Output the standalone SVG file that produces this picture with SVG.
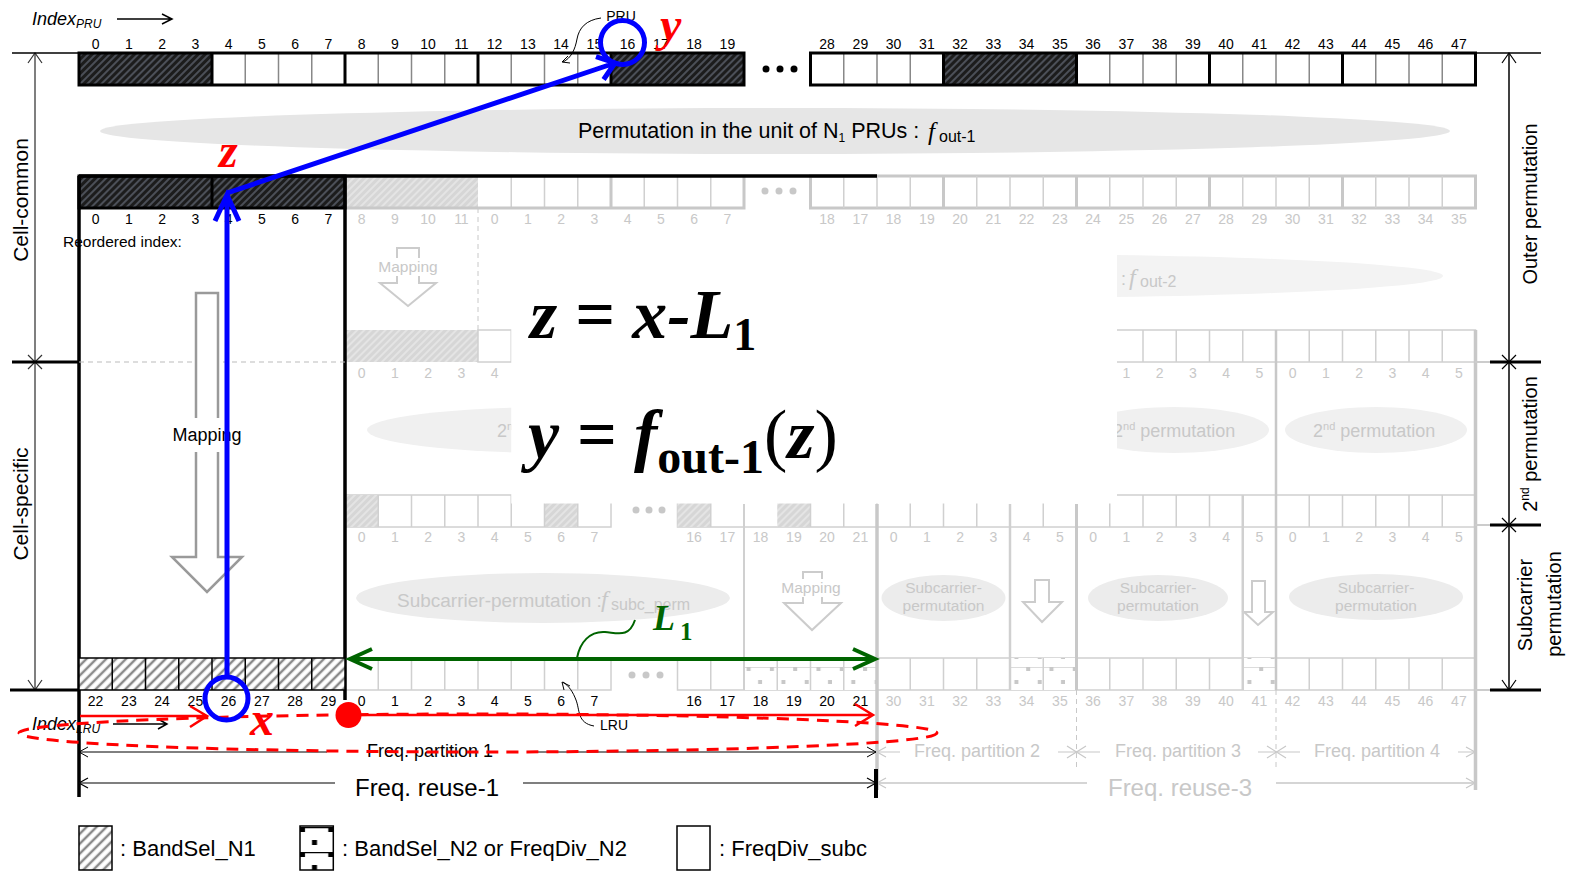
<svg xmlns="http://www.w3.org/2000/svg" width="1571" height="872" viewBox="0 0 1571 872">
<style>
.s{font-family:"Liberation Sans",Arial,sans-serif}
.n{font-family:"Liberation Sans",Arial,sans-serif;font-size:14px;text-anchor:middle}
.g{fill:#c8c8c8}
.m{font-family:"Liberation Serif","Times New Roman",serif;font-weight:bold;font-style:italic}
.fi{font-family:"Liberation Serif","Times New Roman",serif;font-style:italic}
.gl{stroke:#d0d0d0;stroke-width:1.5}
.gt{stroke:#c8c8c8;stroke-width:3}
.bk{stroke:#000}
path{fill:none}
</style>
<defs>
<pattern id="hd" patternUnits="userSpaceOnUse" width="5" height="5" patternTransform="rotate(45)">
<rect width="5" height="5" fill="#1c1c1c"/><line x1="1" y1="0" x2="1" y2="5" stroke="#6b7280" stroke-width="1.2"/>
</pattern>
<pattern id="hl" patternUnits="userSpaceOnUse" width="7" height="7" patternTransform="rotate(45)">
<rect width="7" height="7" fill="#fff"/><line x1="2" y1="0" x2="2" y2="7" stroke="#8a8a8a" stroke-width="2.5"/>
</pattern>
<pattern id="hf" patternUnits="userSpaceOnUse" width="5" height="5" patternTransform="rotate(45)">
<rect width="5" height="5" fill="#d6d6d6"/><line x1="1" y1="0" x2="1" y2="5" stroke="#eeeeee" stroke-width="1.2"/>
</pattern>
<pattern id="dg" patternUnits="userSpaceOnUse" x="0" y="642" width="23.3" height="25">
<rect width="23.3" height="25" fill="#fff"/><line x1="0" y1="0.5" x2="23.3" y2="0.5" stroke="#dcdcdc" stroke-width="1"/>
<rect x="1" y="0" width="4" height="4" fill="#c8c8c8"/><rect x="12.5" y="13" width="4" height="4" fill="#c8c8c8"/>
</pattern>
<pattern id="dl" patternUnits="userSpaceOnUse" x="300" y="827" width="33.3" height="25">
<rect width="33.3" height="25" fill="#fff"/><line x1="0" y1="0.5" x2="33.3" y2="0.5" stroke="#000" stroke-width="1.5"/>
<rect x="0" y="0" width="5" height="5" fill="#000"/><rect x="28.3" y="0" width="5" height="5" fill="#000"/><rect x="12" y="13" width="5" height="5" fill="#000"/>
</pattern>
</defs>
<rect width="1571" height="872" fill="#fff"/>

<!-- ===== faded (gray) layer ===== -->
<g id="faded-layer">
<rect x="345" y="176" width="133" height="32" fill="url(#hf)"/>
<rect x="478" y="176" width="266" height="32" fill="#fff"/>
<path class="gl" d="M511.25,176V208M544.5,176V208M577.75,176V208M644.25,176V208M677.5,176V208M710.75,176V208"/>
<path class="gt" d="M611,176V208M345,208H744V176"/>
<rect x="810.5" y="176" width="665" height="32" fill="#fff" class="gt"/>
<path class="gl" d="M843.75,176V208M877,176V208M910.25,176V208M976.75,176V208M1010,176V208M1043.25,176V208M1109.75,176V208M1143,176V208M1176.25,176V208M1242.75,176V208M1276,176V208M1309.25,176V208M1375.75,176V208M1409,176V208M1442.25,176V208"/>
<path class="gt" d="M943.5,176V208M1076.5,176V208M1209.5,176V208M1342.5,176V208"/>
<g fill="#c8c8c8"><circle cx="765" cy="191" r="3.5"/><circle cx="779" cy="191" r="3.5"/><circle cx="793" cy="191" r="3.5"/></g>
<path d="M478,208V330" stroke="#c8c8c8" stroke-width="1" stroke-dasharray="5,4"/>
<path d="M397,248H419V283H436L408,306L380,283H397Z" style="fill:#fff" stroke="#cccccc" stroke-width="2"/>
<rect x="378" y="258" width="60" height="18" fill="#fff"/>
<text class="s g" x="408" y="272" font-size="15.5" text-anchor="middle">Mapping</text>
<ellipse cx="980" cy="276" rx="463" ry="22" fill="#f3f3f3"/>
<text class="s g" x="1121" y="285" font-size="18">:</text>
<text class="fi g" x="1129" y="285" font-size="24">f</text>
<text class="s g" x="1140" y="287" font-size="16">out-2</text>
<rect x="345" y="330" width="133" height="32" fill="url(#hf)"/>
<rect x="478" y="330" width="33.25" height="32" fill="#fff" class="gl"/>
<rect x="1076.5" y="330" width="399" height="32" fill="#fff" class="gl"/>
<path class="gl" d="M1109.75,330V362M1143,330V362M1176.25,330V362M1209.5,330V362M1242.75,330V362M1309.25,330V362M1342.5,330V362M1375.75,330V362M1409,330V362M1442.25,330V362"/>
<ellipse cx="558" cy="430" rx="191" ry="23" fill="#f0f0f0"/>
<ellipse cx="1174" cy="430" rx="95" ry="23" fill="#f0f0f0"/>
<ellipse cx="1376" cy="430" rx="91" ry="23" fill="#f0f0f0"/>
<text class="s g" x="497" y="437" font-size="18">2<tspan font-size="11" dy="-7">nd</tspan></text>
<text class="s g" x="1113" y="437" font-size="18">2<tspan font-size="11" dy="-7">nd</tspan><tspan dy="7"> permutation</tspan></text>
<text class="s g" x="1313" y="437" font-size="18">2<tspan font-size="11" dy="-7">nd</tspan><tspan dy="7"> permutation</tspan></text>
<rect x="345" y="495" width="266" height="32" fill="#fff" class="gl"/>
<rect x="345" y="495" width="33.25" height="32" fill="url(#hf)"/>
<rect x="544.5" y="495" width="33.25" height="32" fill="url(#hf)"/>
<path class="gl" d="M378.25,495V527M411.5,495V527M444.75,495V527M478,495V527M511.25,495V527M544.5,495V527M577.75,495V527"/>
<g fill="#c8c8c8"><circle cx="636" cy="510" r="3.5"/><circle cx="649" cy="510" r="3.5"/><circle cx="662" cy="510" r="3.5"/></g>
<rect x="677.5" y="495" width="199.5" height="32" fill="#fff" class="gl"/>
<rect x="677.5" y="495" width="33.25" height="32" fill="url(#hf)"/>
<rect x="777.25" y="495" width="33.25" height="32" fill="url(#hf)"/>
<path class="gl" d="M710.75,495V527M810.5,495V527M843.75,495V527"/>
<rect x="877" y="495" width="598.5" height="32" fill="#fff" class="gl"/>
<path class="gl" d="M910.25,495V527M943.5,495V527M976.75,495V527M1043.25,495V527M1109.75,495V527M1143,495V527M1176.25,495V527M1209.5,495V527M1309.25,495V527M1342.5,495V527M1375.75,495V527M1409,495V527M1442.25,495V527"/>
<ellipse cx="543" cy="598" rx="187" ry="25" fill="#ececec"/>
<text class="s g" x="397" y="607" font-size="19">Subcarrier-permutation :</text>
<text class="fi g" x="601" y="607" font-size="24">f</text>
<text class="s g" x="611" y="610" font-size="16">subc_perm</text>
<path d="M803,572H822V603H841L812,630L784,603H803Z" style="fill:#fff" stroke="#cccccc" stroke-width="2"/>
<rect x="781" y="579" width="61" height="18" fill="#fff"/>
<text class="s g" x="811" y="593" font-size="15.5" text-anchor="middle">Mapping</text>
<ellipse cx="943.5" cy="598" rx="62" ry="23" fill="#ececec"/>
<text class="s g" x="943.5" y="593" font-size="15.5" text-anchor="middle">Subcarrier-</text>
<text class="s g" x="943.5" y="611" font-size="15.5" text-anchor="middle">permutation</text>
<path d="M1035,580H1049V602H1062L1042,622L1023,602H1035Z" style="fill:#fff" stroke="#cccccc" stroke-width="2"/>
<ellipse cx="1158" cy="598" rx="70" ry="23" fill="#ececec"/>
<text class="s g" x="1158" y="593" font-size="15.5" text-anchor="middle">Subcarrier-</text>
<text class="s g" x="1158" y="611" font-size="15.5" text-anchor="middle">permutation</text>
<path d="M1252,581H1265V612H1273L1258,625L1244,612H1252Z" style="fill:#fff" stroke="#cccccc" stroke-width="2"/>
<ellipse cx="1376" cy="597" rx="87" ry="23" fill="#ececec"/>
<text class="s g" x="1376" y="593" font-size="15.5" text-anchor="middle">Subcarrier-</text>
<text class="s g" x="1376" y="611" font-size="15.5" text-anchor="middle">permutation</text>
<rect x="345" y="658" width="266" height="32" fill="#fff" class="gl"/>
<path class="gl" d="M378.25,658V690M411.5,658V690M444.75,658V690M478,658V690M511.25,658V690M544.5,658V690M577.75,658V690"/>
<g fill="#c8c8c8"><circle cx="632" cy="675" r="3.5"/><circle cx="646" cy="675" r="3.5"/><circle cx="660" cy="675" r="3.5"/></g>
<rect x="677.5" y="658" width="199.5" height="32" fill="#fff" class="gl"/>
<rect x="744" y="658" width="133" height="32" fill="url(#dg)"/>
<path class="gl" d="M710.75,658V690M777.25,658V690M810.5,658V690M843.75,658V690"/>
<rect x="877" y="658" width="598.5" height="32" fill="#fff" class="gl"/>
<rect x="1010" y="658" width="66.5" height="32" fill="url(#dg)"/>
<rect x="1242.75" y="658" width="33.25" height="32" fill="url(#dg)"/>
<path class="gl" d="M910.25,658V690M943.5,658V690M976.75,658V690M1043.25,658V690M1109.75,658V690M1143,658V690M1176.25,658V690M1209.5,658V690M1309.25,658V690M1342.5,658V690M1375.75,658V690M1409,658V690M1442.25,658V690"/>
<path d="M744,504V690" stroke="#d0d0d0" stroke-width="2"/>
<path d="M877,504V790" stroke="#c8c8c8" stroke-width="3.5"/>
<path d="M1010,504V690" stroke="#d0d0d0" stroke-width="2.5"/>
<path d="M1076.5,504V690" stroke="#c8c8c8" stroke-width="3"/>
<path d="M1242.75,495V690" stroke="#d0d0d0" stroke-width="2.5"/>
<path d="M1276,330V690" stroke="#c8c8c8" stroke-width="2.5"/>
<path d="M1475.5,330V790" stroke="#c8c8c8" stroke-width="3.5"/>
<path d="M1076.5,690V767M1276,690V767" stroke="#c8c8c8" stroke-width="1" stroke-dasharray="5,4"/>
<path d="M1475,362H1490M1475,525H1490M1475,690H1490" stroke="#cccccc" stroke-width="2"/>
<g stroke="#c8c8c8" stroke-width="1.2">
<path d="M877,752H900M1058,752H1100M1258,752H1300M1458,752H1475"/>
<path d="M886,747L877,752L886,757"/>
<path d="M1067,746L1086,758M1067,758L1086,746"/>
<path d="M1267,746L1286,758M1267,758L1286,746"/>
<path d="M1466,747L1475,752L1466,757"/>
<path d="M877,783H1087M1276,783H1475" stroke-width="1.5"/>
<path d="M886,778L877,783L886,788M1466,778L1475,783L1466,788"/>
</g>
<text class="s g" x="977" y="757" font-size="18" text-anchor="middle">Freq. partition 2</text>
<text class="s g" x="1178" y="757" font-size="18" text-anchor="middle">Freq. partition 3</text>
<text class="s g" x="1377" y="757" font-size="18" text-anchor="middle">Freq. partition 4</text>
<text class="s g" x="1180" y="796" font-size="24" text-anchor="middle">Freq. reuse-3</text>
<text class="n g" y="224"><tspan x="361.6">8</tspan><tspan x="394.9">9</tspan><tspan x="428.1">10</tspan><tspan x="461.4">11</tspan><tspan x="494.6">0</tspan><tspan x="527.9">1</tspan><tspan x="561.1">2</tspan><tspan x="594.4">3</tspan><tspan x="627.6">4</tspan><tspan x="660.9">5</tspan><tspan x="694.1">6</tspan><tspan x="727.4">7</tspan><tspan x="827.1">18</tspan><tspan x="860.4">17</tspan><tspan x="893.6">18</tspan><tspan x="926.9">19</tspan><tspan x="960.1">20</tspan><tspan x="993.4">21</tspan><tspan x="1026.6">22</tspan><tspan x="1059.9">23</tspan><tspan x="1093.1">24</tspan><tspan x="1126.4">25</tspan><tspan x="1159.6">26</tspan><tspan x="1192.9">27</tspan><tspan x="1226.1">28</tspan><tspan x="1259.4">29</tspan><tspan x="1292.6">30</tspan><tspan x="1325.9">31</tspan><tspan x="1359.1">32</tspan><tspan x="1392.4">33</tspan><tspan x="1425.6">34</tspan><tspan x="1458.9">35</tspan></text>
<text class="n g" y="378"><tspan x="361.6">0</tspan><tspan x="394.9">1</tspan><tspan x="428.1">2</tspan><tspan x="461.4">3</tspan><tspan x="494.6">4</tspan><tspan x="1126.4">1</tspan><tspan x="1159.6">2</tspan><tspan x="1192.9">3</tspan><tspan x="1226.1">4</tspan><tspan x="1259.4">5</tspan><tspan x="1292.6">0</tspan><tspan x="1325.9">1</tspan><tspan x="1359.1">2</tspan><tspan x="1392.4">3</tspan><tspan x="1425.6">4</tspan><tspan x="1458.9">5</tspan></text>
<text class="n g" y="542"><tspan x="361.6">0</tspan><tspan x="394.9">1</tspan><tspan x="428.1">2</tspan><tspan x="461.4">3</tspan><tspan x="494.6">4</tspan><tspan x="527.9">5</tspan><tspan x="561.1">6</tspan><tspan x="594.4">7</tspan><tspan x="694.1">16</tspan><tspan x="727.4">17</tspan><tspan x="760.6">18</tspan><tspan x="793.9">19</tspan><tspan x="827.1">20</tspan><tspan x="860.4">21</tspan><tspan x="893.6">0</tspan><tspan x="926.9">1</tspan><tspan x="960.1">2</tspan><tspan x="993.4">3</tspan><tspan x="1026.6">4</tspan><tspan x="1059.9">5</tspan><tspan x="1093.1">0</tspan><tspan x="1126.4">1</tspan><tspan x="1159.6">2</tspan><tspan x="1192.9">3</tspan><tspan x="1226.1">4</tspan><tspan x="1259.4">5</tspan><tspan x="1292.6">0</tspan><tspan x="1325.9">1</tspan><tspan x="1359.1">2</tspan><tspan x="1392.4">3</tspan><tspan x="1425.6">4</tspan><tspan x="1458.9">5</tspan></text>
<text class="n g" y="706"><tspan x="893.6">30</tspan><tspan x="926.9">31</tspan><tspan x="960.1">32</tspan><tspan x="993.4">33</tspan><tspan x="1026.6">34</tspan><tspan x="1059.9">35</tspan><tspan x="1093.1">36</tspan><tspan x="1126.4">37</tspan><tspan x="1159.6">38</tspan><tspan x="1192.9">39</tspan><tspan x="1226.1">40</tspan><tspan x="1259.4">41</tspan><tspan x="1292.6">42</tspan><tspan x="1325.9">43</tspan><tspan x="1359.1">44</tspan><tspan x="1392.4">45</tspan><tspan x="1425.6">46</tspan><tspan x="1458.9">47</tspan></text>
</g>

<rect x="511.25" y="252" width="605.75" height="251.5" fill="#fff"/>
<g id="equations">
<text class="m" x="530" y="338" font-size="70">z = x-L<tspan font-size="46" font-style="normal" dy="12">1</tspan></text>
<text class="m" x="528" y="458" font-size="70">y = f<tspan font-size="48" font-style="normal" dy="15">out-1</tspan><tspan dy="-15" font-weight="normal" font-style="normal">(</tspan>z<tspan font-weight="normal" font-style="normal">)</tspan></text>
</g>

<g id="pru-row">
<rect x="79" y="53" width="665" height="32" fill="#fff"/>
<rect x="810.5" y="53" width="665" height="32" fill="#fff"/>
<rect x="79" y="53" width="133" height="32" fill="url(#hd)"/>
<rect x="611" y="53" width="133" height="32" fill="url(#hd)"/>
<rect x="943.5" y="53" width="133" height="32" fill="url(#hd)"/>
<path d="M245.25,53V85M278.5,53V85M311.75,53V85M378.25,53V85M411.5,53V85M444.75,53V85M511.25,53V85M544.5,53V85M577.75,53V85M843.75,53V85M877,53V85M910.25,53V85M1109.75,53V85M1143,53V85M1176.25,53V85M1242.75,53V85M1276,53V85M1309.25,53V85M1375.75,53V85M1409,53V85M1442.25,53V85" stroke="#888" stroke-width="1.5"/>
<path class="bk" stroke-width="3" d="M212,53V85M345,53V85M478,53V85M611,53V85M943.5,53V85M1076.5,53V85M1209.5,53V85M1342.5,53V85"/>
<rect x="79" y="53" width="665" height="32" fill="none" stroke="#000" stroke-width="3"/>
<rect x="810.5" y="53" width="665" height="32" fill="none" stroke="#000" stroke-width="3"/>
<g fill="#000"><circle cx="766" cy="69" r="3.5"/><circle cx="780" cy="69" r="3.5"/><circle cx="794" cy="69" r="3.5"/></g>
<text class="n" y="49"><tspan x="95.6">0</tspan><tspan x="128.9">1</tspan><tspan x="162.1">2</tspan><tspan x="195.4">3</tspan><tspan x="228.6">4</tspan><tspan x="261.9">5</tspan><tspan x="295.1">6</tspan><tspan x="328.4">7</tspan><tspan x="361.6">8</tspan><tspan x="394.9">9</tspan><tspan x="428.1">10</tspan><tspan x="461.4">11</tspan><tspan x="494.6">12</tspan><tspan x="527.9">13</tspan><tspan x="561.1">14</tspan><tspan x="594.4">15</tspan><tspan x="627.6">16</tspan><tspan x="660.9">17</tspan><tspan x="694.1">18</tspan><tspan x="727.4">19</tspan><tspan x="827.1">28</tspan><tspan x="860.4">29</tspan><tspan x="893.6">30</tspan><tspan x="926.9">31</tspan><tspan x="960.1">32</tspan><tspan x="993.4">33</tspan><tspan x="1026.6">34</tspan><tspan x="1059.9">35</tspan><tspan x="1093.1">36</tspan><tspan x="1126.4">37</tspan><tspan x="1159.6">38</tspan><tspan x="1192.9">39</tspan><tspan x="1226.1">40</tspan><tspan x="1259.4">41</tspan><tspan x="1292.6">42</tspan><tspan x="1325.9">43</tspan><tspan x="1359.1">44</tspan><tspan x="1392.4">45</tspan><tspan x="1425.6">46</tspan><tspan x="1458.9">47</tspan></text>
<text class="s" x="32" y="25" font-size="18" font-style="italic">Index<tspan font-size="12" dy="3">PRU</tspan></text>
<path class="bk" stroke-width="1.5" d="M117,19H171M162,14L172,19L162,24"/>
<text class="s" x="621" y="21" font-size="14" text-anchor="middle">PRU</text>
<path class="bk" stroke-width="1" d="M601,18C586,20 579,28 577,39C575,50 571,58 563,62M568,56L562,62L570,63"/>
</g>

<g id="fout1">
<ellipse cx="775" cy="131" rx="675" ry="23" fill="#e6e6e6"/>
<text class="s" x="578" y="138" font-size="21.5">Permutation in the unit of N<tspan font-size="12" dy="4">1</tspan><tspan dy="-4"> PRUs :</tspan></text>
<text class="fi" x="928" y="140" font-size="25">f</text>
<text class="s" x="939" y="142" font-size="16">out-1</text>
</g>

<g id="reordered-row">
<rect x="79" y="176" width="266" height="32" fill="url(#hd)" stroke="#000" stroke-width="3"/>
<path class="bk" stroke-width="3" d="M212,176V208"/>
<path class="bk" stroke-width="3.5" d="M79,176H877"/>
<text class="n" y="224"><tspan x="95.6">0</tspan><tspan x="128.9">1</tspan><tspan x="162.1">2</tspan><tspan x="195.4">3</tspan><tspan x="228.6">4</tspan><tspan x="261.9">5</tspan><tspan x="295.1">6</tspan><tspan x="328.4">7</tspan></text>
<text class="s" x="63" y="247" font-size="15.5">Reordered index:</text>
</g>

<g id="frame">
<path class="bk" stroke-width="3.5" d="M79,176V797M345,176V700"/>
<path d="M79,362H345" stroke="#bbbbbb" stroke-width="1" stroke-dasharray="5,4"/>
<path d="M196,293H218V557H242L207,592L172,557H196Z" style="fill:#fff" stroke="#9a9a9a" stroke-width="2.5"/>
<rect x="168" y="418" width="80" height="34" fill="#fff"/>
<text class="s" x="207" y="441" font-size="18" text-anchor="middle">Mapping</text>
</g>

<g id="lru-row">
<rect x="79" y="658" width="266" height="32" fill="url(#hl)"/>
<path class="bk" stroke-width="1.5" d="M112.25,658V690M145.5,658V690M178.75,658V690M212,658V690M245.25,658V690M278.5,658V690M311.75,658V690"/>
<rect x="79" y="658" width="266" height="32" fill="none" stroke="#000" stroke-width="1.5"/>
<text class="n" y="706"><tspan x="95.6">22</tspan><tspan x="128.9">23</tspan><tspan x="162.1">24</tspan><tspan x="195.4">25</tspan><tspan x="228.6">26</tspan><tspan x="261.9">27</tspan><tspan x="295.1">28</tspan><tspan x="328.4">29</tspan><tspan x="361.6">0</tspan><tspan x="394.9">1</tspan><tspan x="428.1">2</tspan><tspan x="461.4">3</tspan><tspan x="494.6">4</tspan><tspan x="527.9">5</tspan><tspan x="561.1">6</tspan><tspan x="594.4">7</tspan><tspan x="694.1">16</tspan><tspan x="727.4">17</tspan><tspan x="760.6">18</tspan><tspan x="793.9">19</tspan><tspan x="827.1">20</tspan><tspan x="860.4">21</tspan></text>
<text class="s" x="32" y="730" font-size="18" font-style="italic">Index<tspan font-size="12" dy="3">LRU</tspan></text>
<path class="bk" stroke-width="1.5" d="M113,724H166M158,719L167,724L158,729"/>
<text class="s" x="614" y="730" font-size="14" text-anchor="middle">LRU</text>
<path class="bk" stroke-width="1" d="M594,726C577,723 580,710 576,700C573,692 569,686 563,682M564,690L562,682L570,686"/>
</g>

<g id="left-dims">
<path d="M35,53V690" stroke="#555" stroke-width="1.5"/>
<path d="M28,63L35,53L42,63M28,355L42,369M28,369L42,355M28,680L35,690L42,680" stroke="#333" stroke-width="1.2"/>
<path class="bk" stroke-width="1.5" d="M12,53H79"/>
<path class="bk" stroke-width="3" d="M12,362H79M10,690H79"/>
<text class="s" font-size="21" text-anchor="middle" transform="translate(28,200) rotate(-90)">Cell-common</text>
<text class="s" font-size="21" text-anchor="middle" transform="translate(28,504) rotate(-90)">Cell-specific</text>
</g>
<g id="right-dims">
<path d="M1509,53V690" stroke="#000" stroke-width="1.5"/>
<path d="M1502,63L1509,53L1516,63M1502,355L1516,369M1502,369L1516,355M1502,518L1516,532M1502,532L1516,518M1502,680L1509,690L1516,680" stroke="#000" stroke-width="1.2"/>
<path class="bk" stroke-width="1.5" d="M1476,53H1541"/>
<path class="bk" stroke-width="3" d="M1490,362H1541M1490,525H1541M1490,690H1541"/>
<text class="s" font-size="20" text-anchor="middle" transform="translate(1537,204) rotate(-90)">Outer permutation</text>
<text class="s" font-size="20" text-anchor="middle" transform="translate(1537,444) rotate(-90)">2<tspan font-size="12" dy="-8">nd</tspan><tspan dy="8"> permutation</tspan></text>
<text class="s" font-size="20" text-anchor="middle" transform="translate(1532,605) rotate(-90)">Subcarrier</text>
<text class="s" font-size="20" text-anchor="middle" transform="translate(1561,604) rotate(-90)">permutation</text>
</g>
<g id="freq-dims">
<path class="bk" stroke-width="1" d="M79,752H327M537,752H876M88,747L79,752L88,757M867,747L876,752L867,757"/>
<text class="s" x="430" y="757" font-size="18" text-anchor="middle">Freq. partition 1</text>
<path d="M79,783H335M523,783H876" stroke="#555" stroke-width="1.5"/>
<path class="bk" stroke-width="1.2" d="M88,778L79,783L88,788M867,778L876,783L867,788"/>
<text class="s" x="427" y="796" font-size="24" text-anchor="middle">Freq. reuse-1</text>
<path class="bk" stroke-width="4" d="M876,769V798"/>
</g>

<g id="legend">
<rect x="79" y="826" width="33" height="44" fill="url(#hl)" stroke="#000" stroke-width="1.5"/>
<text class="s" x="120" y="856" font-size="22">: BandSel_N1</text>
<rect x="300" y="826" width="33.3" height="44" fill="url(#dl)" stroke="#000" stroke-width="1.5"/>
<text class="s" x="342" y="856" font-size="22">: BandSel_N2 or FreqDiv_N2</text>
<rect x="677" y="826" width="33" height="44" fill="#fff" stroke="#000" stroke-width="1.5"/>
<text class="s" x="719" y="856" font-size="22">: FreqDiv_subc</text>
</g>

<g id="connectors">
<ellipse cx="478" cy="733" rx="459" ry="19" fill="none" stroke="#ff0000" stroke-width="3" stroke-dasharray="12,8"/>
<path d="M80,716H206M190,706L207,716L190,727" stroke="#ff0000" stroke-width="2.5"/>
<path d="M348,715H872M855,704L873,715L855,726" stroke="#ff0000" stroke-width="2.5"/>
<circle cx="348.5" cy="715" r="13" fill="#ff0000"/>
<path d="M352,659H873M372,649L350,659L372,669M853,649L875,659L853,669" stroke="#006400" stroke-width="4"/>
<path d="M577,658C580,642 590,631 605,632C618,633 629,638 635,620" stroke="#006400" stroke-width="2"/>
<text class="m" x="653" y="630" font-size="36" fill="#006400">L</text>
<text x="680" y="640" font-size="25" font-weight="bold" font-family="Liberation Serif, serif" fill="#006400">1</text>
<path d="M227,676V197M215,221L227,195L239,221" stroke="#0000ff" stroke-width="5"/>
<path d="M227,193L612,64M603.6,79.5L615,63L596,56.7" stroke="#0000ff" stroke-width="5"/>
<circle cx="226.5" cy="698.5" r="21.5" fill="none" stroke="#0000ff" stroke-width="5"/>
<circle cx="622.5" cy="42.5" r="22" fill="none" stroke="#0000ff" stroke-width="5"/>
<text class="m" x="219" y="167" font-size="48" fill="#ff0000">z</text>
<text class="m" x="660" y="41" font-size="48" fill="#ff0000">y</text>
<text class="m" x="250" y="735" font-size="48" fill="#ff0000">x</text>
</g>
</svg>
